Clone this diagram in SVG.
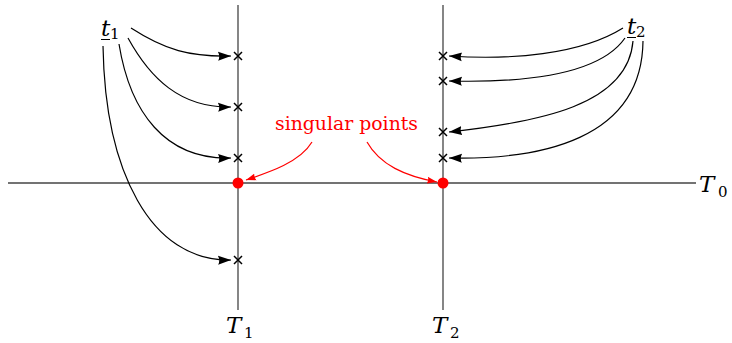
<svg xmlns="http://www.w3.org/2000/svg" width="732" height="343" viewBox="0 0 732 343">
<style>
.axis{stroke:#444;stroke-width:1.3;fill:none}
.arr{stroke:#000;stroke-width:1.2;fill:none;marker-end:url(#ah)}
.rarr{stroke:#f00;stroke-width:1.2;fill:none;marker-end:url(#rah)}
.cross{stroke:#000;stroke-width:1.5}
</style>
<defs>
<marker id="ah" markerWidth="15" markerHeight="11" refX="13" refY="5" orient="auto" markerUnits="userSpaceOnUse">
<path d="M0,0.5 L13,5 L0,9.5 Q2.5,5 0,0.5 Z" fill="#000"/>
</marker>
<marker id="rah" markerWidth="12" markerHeight="10" refX="10" refY="4" orient="auto" markerUnits="userSpaceOnUse">
<path d="M0,0.5 L10,4 L0,7.5 Q2,4 0,0.5 Z" fill="#f00"/>
</marker>
<path id="x" d="M-4,-4 L4,4 M-4,4 L4,-4"/>
</defs>
<g id="axes">
<line class="axis" x1="8" y1="183" x2="696" y2="183"/>
<line class="axis" x1="238" y1="5" x2="238" y2="310"/>
<line class="axis" x1="443" y1="5" x2="443" y2="310"/>
</g>
<g id="crosses" class="cross">
<use href="#x" x="238" y="56"/>
<use href="#x" x="238" y="107"/>
<use href="#x" x="238" y="158"/>
<use href="#x" x="238" y="260"/>
<use href="#x" x="443" y="56"/>
<use href="#x" x="443" y="81"/>
<use href="#x" x="443" y="132"/>
<use href="#x" x="443" y="158"/>
</g>
<g id="connectors">
<path class="arr" d="M131,28 C165,50 190,57 231,56"/>
<path class="arr" d="M128,38 C150,78 180,108 231,107"/>
<path class="arr" d="M119,44 C130,112 165,160 231,158"/>
<path class="arr" d="M103,46 C105,170 150,262 231,260"/>
<path class="arr" d="M623,28 C580,55 510,60 449,56"/>
<path class="arr" d="M625,38 C600,74 530,83 449,81"/>
<path class="arr" d="M633,41 C628,105 540,122 449,132"/>
<path class="arr" d="M643,41 C642,140 540,160 449,158"/>
<path class="rarr" d="M312,142 C300,162 270,172 246,180"/>
<path class="rarr" d="M367,142 C380,165 405,176 437,182"/>
</g>
<g id="points" fill="#f00">
<circle cx="238" cy="183" r="5.5"/>
<circle cx="443" cy="183" r="5.5"/>
</g>
<g font-family="DejaVu Serif, serif" fill="#000">
<g id="label-t1">
<text x="101" y="36" font-size="23" font-style="italic">t</text>
<text x="110" y="39" font-size="15">1</text>
<line x1="101" y1="39.5" x2="110" y2="39.5" stroke="#000" stroke-width="1"/>
</g>
<g id="label-t2">
<text x="627" y="34" font-size="23" font-style="italic">t</text>
<text x="636" y="37" font-size="15">2</text>
<line x1="627" y1="37.5" x2="636" y2="37.5" stroke="#000" stroke-width="1"/>
</g>
<g id="label-T0">
<text x="699" y="192" font-size="23" font-style="italic">T</text>
<text x="718" y="197" font-size="15">0</text>
</g>
<g id="label-T1">
<text x="226" y="333" font-size="23" font-style="italic">T</text>
<text x="244" y="338" font-size="15">1</text>
</g>
<g id="label-T2">
<text x="432" y="333" font-size="23" font-style="italic">T</text>
<text x="450" y="338" font-size="15">2</text>
</g>
<g id="label-singular">
<text x="275" y="130" font-size="18" fill="#f00" textLength="143" lengthAdjust="spacingAndGlyphs">singular points</text>
</g>
</g>
</svg>
